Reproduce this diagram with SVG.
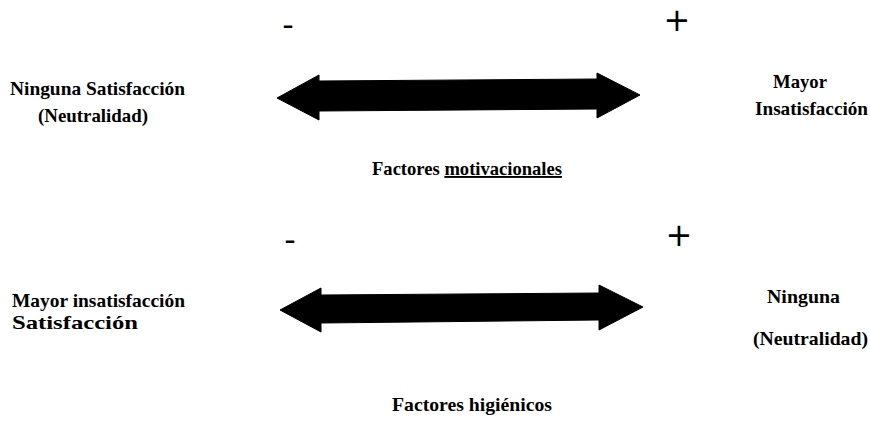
<svg xmlns="http://www.w3.org/2000/svg" width="870" height="422" viewBox="0 0 870 422">
<style>
.t{font-family:"Liberation Serif","Times New Roman",serif;font-weight:bold;font-size:19px;fill:#000}
.s{font-family:"DejaVu Sans",sans-serif;font-size:32px;fill:#000;text-anchor:middle}
.arrow{fill:#000;stroke:#000;stroke-width:1;stroke-linejoin:round}
</style>
<rect width="870" height="422" fill="#fff"/>
<g id="connectors">
<path class="arrow" d="M277,98 L319,75 L319,81 L597,79 L597,73 L640,95 L597,118 L597,109 L319,111 L319,120 Z"/>
<path class="arrow" d="M280,310 L321,288 L321,295 L599,293 L599,285 L643,307 L599,330 L599,320 L321,323 L321,332 Z"/>
</g>
<g id="minus-top"><text class="s" x="288" y="36">-</text></g>
<g id="plus-top"><text class="s" x="677" y="31">+</text></g>
<g id="minus-bottom"><text class="s" x="290" y="251">-</text></g>
<g id="plus-bottom"><text class="s" x="679" y="246">+</text></g>
<g id="ninguna-satisfaccion">
<text class="t" x="10" y="95" textLength="175" lengthAdjust="spacingAndGlyphs">Ninguna Satisfacción</text>
<text class="t" x="38" y="122" textLength="110" lengthAdjust="spacingAndGlyphs">(Neutralidad)</text>
</g>
<g id="mayor-insatisfaccion-top">
<text class="t" x="773" y="88" textLength="54" lengthAdjust="spacingAndGlyphs">Mayor</text>
<text class="t" x="755" y="115" textLength="113" lengthAdjust="spacingAndGlyphs">Insatisfacción</text>
</g>
<g id="factores-motivacionales">
<text class="t" x="372" y="175" textLength="190" lengthAdjust="spacingAndGlyphs">Factores <tspan text-decoration="underline">motivacionales</tspan></text>
</g>
<g id="mayor-insatisfaccion-bottom">
<text class="t" x="12" y="307" textLength="173" lengthAdjust="spacingAndGlyphs">Mayor insatisfacción</text>
<text class="t" x="12" y="329" textLength="126" lengthAdjust="spacingAndGlyphs">Satisfacción</text>
</g>
<g id="ninguna-neutralidad">
<text class="t" x="767" y="303" textLength="73" lengthAdjust="spacingAndGlyphs">Ninguna</text>
<text class="t" x="753" y="345" textLength="115" lengthAdjust="spacingAndGlyphs">(Neutralidad)</text>
</g>
<g id="factores-higienicos">
<text class="t" x="392" y="411" textLength="160" lengthAdjust="spacingAndGlyphs">Factores higiénicos</text>
</g>
</svg>
